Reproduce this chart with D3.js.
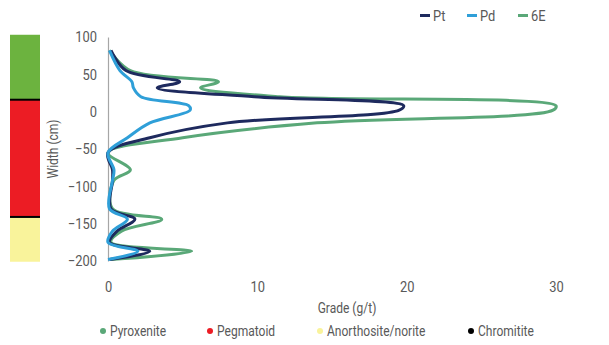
<!DOCTYPE html>
<html><head><meta charset="utf-8">
<script src="https://cdn.jsdelivr.net/npm/d3@7/dist/d3.min.js"></script>
<style>body{margin:0;background:#fff}svg{display:block}text{font-family:"Roboto","Liberation Sans",sans-serif;fill:#595959}</style>
</head><body><svg id="c" width="609" height="345"></svg>
<script>
// Sample depths (cm, "Width") shared by all series
const depths = [82, 55, 40, 32, 20, 8, 2, -15, -35, -55, -78, -92, -130, -144, -160, -175, -187, -198];
const pt  = [0.2, 1.2, 4.8, 3.3, 9.8, 19.8, 19.5, 8.0, 2.8, 0.0, 0.3, 0.3, 0.2, 1.8, 0.6, 0.1, 2.8, 0.1];
const pd  = [0.1, 0.8, 1.6, 1.7, 2.2, 5.4, 5.5, 2.8, 1.3, 0.0, 0.4, 0.3, 0.1, 1.3, 0.3, 0.0, 2.0, 0.0];
const e6  = [0.1, 1.5, 7.4, 6.2, 11.5, 30.0, 29.8, 14.0, 5.0, 0.0, 1.5, 0.4, 0.3, 3.6, 0.9, 0.2, 5.6, 0.2];
const seriesNames = ["Pt", "Pd", "6E"];
const seriesColors = ["#1e2a5e", "#2f9fd8", "#5aa878"];
const yTicks = [100, 50, 0, -50, -100, -150, -200];
const xTicks = [0, 10, 20, 30];
// Stratigraphic column (top, bottom in cm)
const layerNames = ["Pyroxenite", "Pegmatoid", "Anorthosite/norite"];
const layerTops = [103, 16, -141];
const layerBottoms = [16, -141, -201];
const layerColors = ["#6cb33f", "#ec1c24", "#f9f39b"];
const chromititeAt = [16, -141];
const legendNames = ["Pyroxenite", "Pegmatoid", "Anorthosite/norite", "Chromitite"];
const legendColors = ["#5aa878", "#ec1c24", "#f9f39b", "#000000"];

const svg = d3.select("#c");
const x = d3.scaleLinear().domain([0, 30]).range([108, 556]);
const y = d3.scaleLinear().domain([-200, 100]).range([261, 37]);
const SX = 0.86;
function condense(sel) {
  sel.each(function () {
    const t = d3.select(this);
    const px = +(t.attr("x") || 0);
    const prev = t.attr("transform") || "";
    t.attr("transform", prev + ` translate(${px},0) scale(${SX},1) translate(${-px},0)`);
  });
}

// strat column
svg.append("g").selectAll("rect").data(layerNames).join("rect")
  .attr("x", 10).attr("width", 30)
  .attr("y", (d, i) => y(layerTops[i]))
  .attr("height", (d, i) => y(layerBottoms[i]) - y(layerTops[i]))
  .attr("fill", (d, i) => layerColors[i]);
svg.append("g").selectAll("rect").data(chromititeAt).join("rect")
  .attr("x", 10).attr("width", 30).attr("y", d => y(d) - 1).attr("height", 2).attr("fill", "#000");

// y axis
const yAxis = svg.append("g").attr("transform", "translate(108,0)")
  .call(d3.axisLeft(y).tickValues(yTicks).tickSize(0).tickPadding(11).tickFormat(d3.format("d")));
yAxis.select(".domain").attr("stroke", "#a6a6a6").attr("stroke-width", 1.2);
yAxis.selectAll("text").attr("font-size", 15).style("fill", "#595959").style("font-family", "Roboto").call(condense);

// x axis (labels only)
const xAxis = svg.append("g").attr("transform", "translate(0,281)")
  .call(d3.axisBottom(x).tickValues(xTicks).tickSize(0).tickPadding(0));
xAxis.select(".domain").remove();
xAxis.selectAll("text").attr("font-size", 15).attr("dy", "0.71em").style("fill", "#595959").style("font-family", "Roboto").call(condense);

svg.append("text").attr("x", 347).attr("y", 313).attr("text-anchor", "middle").attr("font-size", 14).text("Grade (g/t)").call(condense);
svg.append("text").attr("transform", "translate(58,149) rotate(-90)").attr("text-anchor", "middle").attr("font-size", 14).text("Width (cm)").call(condense);

// series lines
const line = d3.line().x(d => x(d[0])).y(d => y(d[1])).curve(d3.curveCatmullRom.alpha(0.5));
const seriesVals = [pt, pd, e6];
const order = [2, 0, 1];
svg.append("g").selectAll("path").data(order).join("path")
  .attr("d", i => line(seriesVals[i].map((v, k) => [v, depths[k]])))
  .attr("fill", "none").attr("stroke", i => seriesColors[i]).attr("stroke-width", 3)
  .attr("stroke-linejoin", "round");

// top legend
const tl = svg.append("g");
const tlX = [420, 467, 518];
seriesNames.forEach((n, i) => {
  tl.append("rect").attr("x", tlX[i]).attr("y", 14).attr("width", 10).attr("height", 3).attr("fill", seriesColors[i]);
  tl.append("text").attr("x", tlX[i] + 13).attr("y", 21).attr("font-size", 15).text(n).call(condense);
});

// bottom legend
const bl = svg.append("g");
const blX = [103, 210, 320, 471];
legendNames.forEach((n, i) => {
  bl.append("circle").attr("cx", blX[i]).attr("cy", 331).attr("r", 3).attr("fill", legendColors[i]);
  bl.append("text").attr("x", blX[i] + 7).attr("y", 336).attr("font-size", 14).text(n).call(condense);
});
</script></body></html>
